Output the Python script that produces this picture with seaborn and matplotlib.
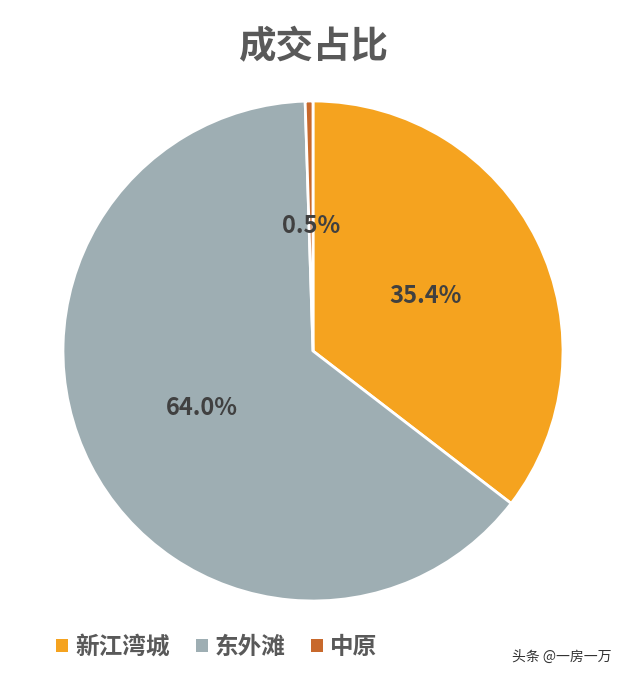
import numpy as np
import matplotlib.pyplot as plt
import seaborn as sns
from matplotlib.patches import Patch

# Data
regions = ["新江湾城", "东外滩", "中原"]
shares = [35.4, 64.0, 0.5]
colors = ["#F5A31F", "#9EAEB3", "#C8692C"]

sns.set_theme(style="white")
plt.rcParams['font.family'] = ['Noto Sans CJK SC', 'DejaVu Sans']

fig = plt.figure(figsize=(6.26, 6.79), dpi=100)
ax = fig.add_axes([63 / 626, 78 / 679, 500 / 626, 500 / 679])

wedges, _ = ax.pie(shares, colors=colors, startangle=90, counterclock=False,
                   wedgeprops=dict(edgecolor="white", linewidth=2))
ax.set_xlim(-1, 1)
ax.set_ylim(-1, 1)
ax.set_aspect("equal")

# percentage labels at half the radius
for w, v in zip(wedges, shares):
    mid = np.deg2rad((w.theta1 + w.theta2) / 2)
    ax.text(0.5 * np.cos(mid), 0.5 * np.sin(mid), f"{v:.1f}%",
            ha="center", va="center", fontsize=17, fontweight="bold",
            color="#404040")

fig.text(0.5, 1 - 47 / 679, "成交占比", ha="center", va="center",
         fontsize=27, fontweight="bold", color="#595959")

handles = [Patch(facecolor=c, edgecolor="none") for c in colors]
fig.legend(handles, regions, loc="center", bbox_to_anchor=(217 / 626, 1 - 647 / 679),
           ncol=3, frameon=False, handlelength=0.5, handleheight=0.5,
           handletextpad=0.3, columnspacing=1.1,
           prop=dict(family=['Noto Sans CJK SC'], weight="bold", size=17),
           labelcolor="#595959")

fig.text(612 / 626, 1 - 657 / 679, "头条 @一房一万", ha="right", va="center",
         fontsize=10, color="#333333")

fig.savefig("out.png", dpi=100, facecolor="white")
